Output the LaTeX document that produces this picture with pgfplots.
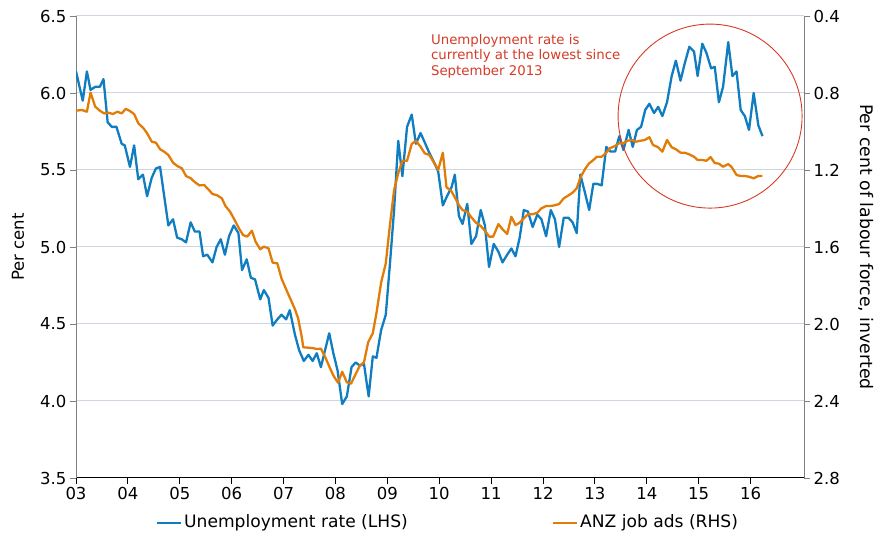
\documentclass[border=0pt]{standalone}
\usepackage{pgfplots}
\pgfplotsset{compat=1.18}
\usepackage{fontspec}
\setmainfont{DejaVu Sans}
\usetikzlibrary{calc}
\definecolor{ublue}{RGB}{16,125,193}
\definecolor{aorange}{RGB}{226,124,8}
\definecolor{ared}{RGB}{214,58,38}
\definecolor{gridc}{RGB}{205,214,224}
\begin{document}
\begin{tikzpicture}
\pgfplotsset{
  myax/.style={width=728pt,height=462pt,scale only axis,
    xmin=2003,xmax=2017.03,
    font=\fontsize{16.5}{19}\selectfont,
    /pgf/number format/assume math mode=true,
    tick align=outside, major tick length=6pt,
    tick style={line width=0.8pt},
    yticklabel style={/pgf/number format/.cd,fixed,fixed zerofill,precision=1},
  }
}
\begin{axis}[myax,
  axis x line*=bottom, axis y line*=left,
  ymin=3.5, ymax=6.5,
  ytick={3.5,4.0,4.5,5.0,5.5,6.0,6.5},
  ymajorgrids, grid style={gridc,line width=1pt},
  xtick={2003,2004,2005,2006,2007,2008,2009,2010,2011,2012,2013,2014,2015,2016},
  xticklabels={03,04,05,06,07,08,09,10,11,12,13,14,15,16},
  x axis line style={black,line width=1pt},
  y axis line style={gray,line width=1pt},
  xtick style={black},
  ytick style={gray},
]
\coordinate (bl) at (rel axis cs:0,0);
\coordinate (tr) at (rel axis cs:1,1);
\addplot[ublue, line width=2.3pt, line join=round] coordinates {
(2003.00,6.14)(2003.13,5.95)(2003.21,6.14)(2003.28,6.02)(2003.37,6.04)(2003.46,6.04)
(2003.53,6.09)(2003.61,5.81)(2003.69,5.78)(2003.78,5.78)(2003.88,5.67)(2003.94,5.66)
(2004.04,5.52)(2004.12,5.66)(2004.20,5.44)(2004.29,5.47)(2004.37,5.33)(2004.46,5.45)
(2004.54,5.51)(2004.62,5.52)(2004.78,5.14)(2004.87,5.18)(2004.95,5.06)(2005.04,5.05)
(2005.12,5.03)(2005.21,5.16)(2005.29,5.10)(2005.38,5.10)(2005.45,4.94)(2005.53,4.95)
(2005.63,4.90)(2005.71,5.00)(2005.79,5.05)(2005.87,4.95)(2005.95,5.07)(2006.04,5.14)
(2006.13,5.09)(2006.20,4.85)(2006.29,4.92)(2006.37,4.80)(2006.45,4.79)(2006.55,4.66)
(2006.62,4.72)(2006.71,4.67)(2006.79,4.49)(2006.88,4.53)(2006.96,4.56)(2007.05,4.53)
(2007.12,4.59)(2007.22,4.43)(2007.30,4.33)(2007.39,4.26)(2007.48,4.30)(2007.56,4.26)
(2007.64,4.31)(2007.72,4.22)(2007.80,4.33)(2007.88,4.44)(2007.96,4.31)(2008.04,4.20)
(2008.13,3.98)(2008.22,4.03)(2008.31,4.22)(2008.39,4.25)(2008.47,4.23)(2008.55,4.24)
(2008.64,4.03)(2008.72,4.29)(2008.79,4.28)(2008.88,4.46)(2008.97,4.56)(2009.05,4.89)
(2009.13,5.24)(2009.21,5.69)(2009.29,5.46)(2009.38,5.78)(2009.47,5.86)(2009.55,5.67)
(2009.64,5.74)(2009.72,5.68)(2009.81,5.61)(2009.90,5.55)(2009.98,5.49)(2010.07,5.27)
(2010.15,5.33)(2010.24,5.39)(2010.30,5.47)(2010.38,5.20)(2010.45,5.15)(2010.54,5.28)
(2010.62,5.02)(2010.71,5.07)(2010.80,5.24)(2010.88,5.14)(2010.96,4.87)(2011.05,5.02)
(2011.14,4.97)(2011.22,4.90)(2011.31,4.95)(2011.39,4.99)(2011.47,4.94)(2011.55,5.06)
(2011.63,5.24)(2011.71,5.23)(2011.80,5.13)(2011.89,5.21)(2011.97,5.18)(2012.06,5.07)
(2012.15,5.24)(2012.23,5.18)(2012.31,5.00)(2012.40,5.19)(2012.49,5.19)(2012.57,5.16)
(2012.65,5.09)(2012.72,5.47)(2012.81,5.35)(2012.89,5.24)(2012.97,5.41)(2013.04,5.41)
(2013.13,5.40)(2013.22,5.65)(2013.30,5.62)(2013.39,5.62)(2013.47,5.72)(2013.55,5.63)
(2013.65,5.76)(2013.73,5.65)(2013.81,5.76)(2013.89,5.78)(2013.97,5.89)(2014.05,5.93)
(2014.14,5.87)(2014.22,5.91)(2014.30,5.85)(2014.39,5.94)(2014.48,6.11)(2014.56,6.21)
(2014.65,6.08)(2014.73,6.19)(2014.82,6.30)(2014.91,6.27)(2014.98,6.11)(2015.07,6.32)
(2015.15,6.26)(2015.24,6.16)(2015.31,6.17)(2015.39,5.94)(2015.47,6.04)(2015.57,6.33)
(2015.65,6.11)(2015.73,6.14)(2015.81,5.89)(2015.89,5.85)(2015.97,5.76)(2016.06,6.00)
(2016.15,5.79)(2016.23,5.72)
};
\draw[ared, line width=0.9pt] (axis cs:2015.22,5.85) circle [radius=92pt];
\node[anchor=north west, align=left, text=ared, inner sep=0pt,
  font=\fontsize{13.3}{15.5}\selectfont] at (axis cs:2009.84,6.385)
  {Unemployment rate is\\currently at the lowest since\\September 2013};
\end{axis}
\begin{axis}[myax,
  axis x line=none, axis y line*=right,
  ymin=0.4, ymax=2.8, y dir=reverse,
  ytick={0.4,0.8,1.2,1.6,2.0,2.4,2.8},
  y axis line style={gray,line width=1pt},
  ytick style={gray},
]
\addplot[aorange, line width=2.3pt, line join=round] coordinates {
(2003.00,0.892)(2003.11,0.888)(2003.21,0.897)(2003.28,0.798)(2003.37,0.871)(2003.46,0.892)
(2003.54,0.906)(2003.62,0.902)(2003.71,0.909)(2003.80,0.897)(2003.88,0.906)(2003.96,0.882)
(2004.04,0.894)(2004.12,0.909)(2004.20,0.957)(2004.30,0.983)(2004.37,1.009)(2004.46,1.053)
(2004.54,1.058)(2004.62,1.092)(2004.70,1.105)(2004.78,1.122)(2004.87,1.162)(2004.95,1.179)
(2005.04,1.191)(2005.12,1.231)(2005.21,1.243)(2005.29,1.263)(2005.38,1.280)(2005.47,1.278)
(2005.55,1.300)(2005.63,1.325)(2005.71,1.330)(2005.81,1.347)(2005.88,1.387)(2005.97,1.417)
(2006.05,1.456)(2006.14,1.503)(2006.22,1.538)(2006.30,1.546)(2006.39,1.515)(2006.46,1.572)
(2006.55,1.612)(2006.62,1.598)(2006.71,1.607)(2006.79,1.681)(2006.88,1.685)(2006.96,1.763)
(2007.05,1.820)(2007.14,1.875)(2007.22,1.924)(2007.28,1.970)(2007.35,2.066)(2007.38,2.121)
(2007.48,2.123)(2007.56,2.125)(2007.64,2.130)(2007.72,2.128)(2007.80,2.170)(2007.88,2.220)
(2007.96,2.268)(2008.05,2.305)(2008.13,2.248)(2008.22,2.303)(2008.30,2.310)(2008.39,2.260)
(2008.47,2.216)(2008.55,2.199)(2008.63,2.095)(2008.72,2.048)(2008.79,1.944)(2008.88,1.785)
(2008.97,1.685)(2009.05,1.486)(2009.13,1.304)(2009.21,1.217)(2009.29,1.152)(2009.38,1.152)
(2009.47,1.065)(2009.55,1.048)(2009.64,1.079)(2009.72,1.113)(2009.81,1.122)(2009.90,1.162)
(2009.98,1.200)(2010.07,1.110)(2010.14,1.290)(2010.23,1.308)(2010.30,1.342)(2010.39,1.387)
(2010.45,1.408)(2010.54,1.417)(2010.62,1.446)(2010.71,1.474)(2010.80,1.491)(2010.88,1.515)
(2010.96,1.546)(2011.04,1.546)(2011.14,1.481)(2011.22,1.508)(2011.31,1.532)(2011.39,1.443)
(2011.47,1.486)(2011.55,1.474)(2011.63,1.451)(2011.71,1.430)(2011.80,1.430)(2011.89,1.422)
(2011.97,1.399)(2012.06,1.387)(2012.15,1.387)(2012.23,1.383)(2012.31,1.377)(2012.40,1.347)
(2012.49,1.332)(2012.57,1.318)(2012.65,1.295)(2012.72,1.240)(2012.81,1.195)(2012.88,1.168)
(2012.97,1.148)(2013.04,1.131)(2013.13,1.131)(2013.21,1.113)(2013.29,1.087)(2013.39,1.075)
(2013.47,1.061)(2013.55,1.061)(2013.63,1.048)(2013.71,1.044)(2013.79,1.053)(2013.88,1.048)
(2013.96,1.044)(2014.05,1.030)(2014.12,1.070)(2014.22,1.082)(2014.30,1.105)(2014.39,1.044)
(2014.48,1.082)(2014.56,1.092)(2014.65,1.110)(2014.73,1.110)(2014.82,1.119)(2014.91,1.131)
(2014.98,1.148)(2015.07,1.148)(2015.15,1.152)(2015.23,1.133)(2015.31,1.164)(2015.39,1.167)
(2015.47,1.183)(2015.57,1.169)(2015.64,1.186)(2015.73,1.226)(2015.81,1.231)(2015.89,1.231)
(2015.97,1.235)(2016.06,1.243)(2016.15,1.231)(2016.23,1.231)
};
\end{axis}
% axis titles
\node[rotate=90, font=\fontsize{16.5}{19}\selectfont] at ($(bl)!0.5!(bl|-tr)+(-58pt,0)$) {Per cent};
\node[rotate=-90, font=\fontsize{17.3}{20}\selectfont] at ($(tr|-bl)!0.5!(tr)+(62pt,0)$) {Per cent of labour force, inverted};
% legend
\draw[ublue, line width=2.5pt] ($(bl)+(81pt,-45pt)$) -- ($(bl)+(105pt,-45pt)$);
\node[anchor=west, inner sep=0pt, font=\fontsize{17.1}{20}\selectfont] at ($(bl)+(108pt,-45pt)$) {Unemployment rate (LHS)};
\draw[aorange, line width=2.5pt] ($(bl)+(477pt,-45pt)$) -- ($(bl)+(501pt,-45pt)$);
\node[anchor=west, inner sep=0pt, font=\fontsize{17.1}{20}\selectfont] at ($(bl)+(504pt,-45pt)$) {ANZ job ads (RHS)};
\pgfresetboundingbox
\path ($(bl)+(-76pt,-65pt)$) rectangle ($(tr)+(79pt,16pt)$);
\end{tikzpicture}
\end{document}
